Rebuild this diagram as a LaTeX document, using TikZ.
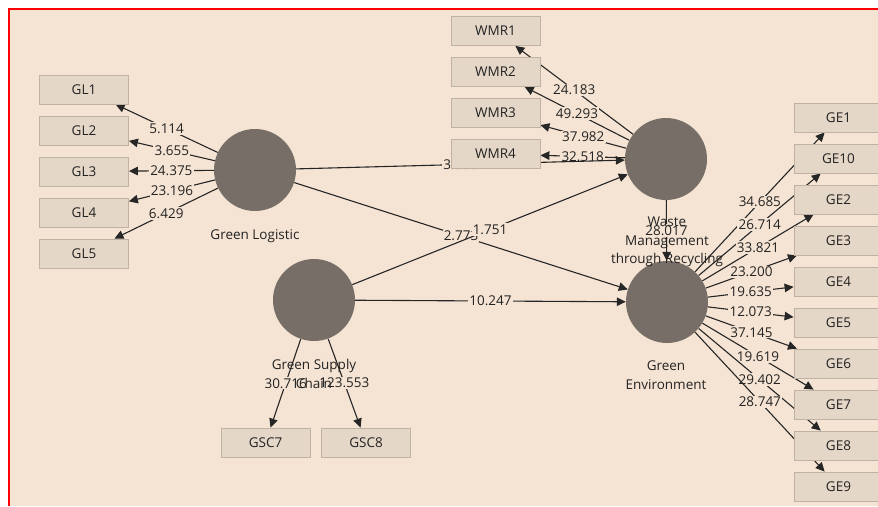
\documentclass[tikz,border=0pt]{standalone}
\usepackage{fontspec}
\setmainfont{Open Sans}
\usetikzlibrary{
  arrows.meta,
  positioning
}
\definecolor{plsbg}{RGB}{245,228,211}
\definecolor{plsbox}{RGB}{229,215,199}
\definecolor{plsframe}{RGB}{192,178,162}
\definecolor{plsdisc}{RGB}{119,111,103}
\definecolor{plstext}{RGB}{35,35,35}
\pgfdeclarelayer{back}
\pgfdeclarelayer{edges}
\pgfsetlayers{back,edges,main}
\tikzset{
  construct/.style={
    circle,
    fill=plsdisc,
    minimum size=82pt,
    inner sep=0pt
  },
  indicator/.style={
    rectangle,
    fill=plsbox,
    draw=plsframe,
    line width=0.8pt,
    minimum width=89pt,
    minimum height=29pt,
    inner sep=0pt,
    text=plstext
  },
  cname/.style={
    align=center,
    text=plstext
  },
  link/.style={
    draw=black!85,
    line width=1.1pt,
    -{Triangle[length=9pt,width=8.5pt]}
  },
  coef/.style={
    midway,
    fill=plsbg,
    inner sep=1.2pt,
    text=plstext
  }
}

\begin{document}
\begin{tikzpicture}[x=1pt, y=-1pt, font=\fontsize{13.5}{18.5}\selectfont]
\useasboundingbox (0,0) rectangle (878,506);
\begin{pgfonlayer}{back}
\fill[white] (0,0) rectangle (878,506);
\fill[plsbg] (9,9) rectangle (878,506);
\draw[red, line width=2pt] (9,506) -- (9,9) -- (878,9);
\end{pgfonlayer}

% latent variables
\node[construct] (GL) at (255,170) {};
\node[construct] (WMR) at (666,159) {};
\node[construct] (GSC) at (314,300) {};
\node[construct] (GE) at (667,302) {};

\node[cname] (GLname) at (255,236) {Green Logistic};
\node[cname] (WMRname) at (667,242) {Waste\\Management\\through Recycling};
\node[cname] (GSCname) at (314,374) {Green Supply\\Chain};
\node[cname] (GEname) at (666,375) {Green\\Environment};

% indicators
\foreach \i in {1,...,5}
  \node[indicator] (GL\i) at (84,{48.5+41*\i}) {GL\i};
\foreach \i in {1,...,4}
  \node[indicator] (WMR\i) at (495.5,{-10+41*\i}) {WMR\i};
\foreach \n [count=\k] in {1,10,2,3,4,5,6,7,8,9}
  \node[indicator] (GE\n) at (838.5,{76.5+41*\k}) {GE\n};
\node[indicator] (GSC7) at (265.5,442.5) {GSC7};
\node[indicator] (GSC8) at (366,442.5) {GSC8};

\begin{pgfonlayer}{edges}
\foreach \i/\v in {1/5.114, 2/3.655, 3/24.375, 4/23.196, 5/6.429}
  \draw[link] (GL) -- (GL\i) node[coef] {\v};
\foreach \i/\v in {1/24.183, 2/49.293, 3/37.982, 4/32.518}
  \draw[link] (WMR) -- (WMR\i) node[coef] {\v};
\foreach \n/\v in {1/34.685, 10/26.714, 2/33.821, 3/23.200, 4/19.635,
                   5/12.073, 6/37.145, 7/19.619, 8/29.402, 9/28.747}
  \draw[link] (GE) -- (GE\n) node[coef] {\v};
\draw[link] (GSC) -- (GSC7) node[coef] {30.716};
\draw[link] (GSC) -- (GSC8) node[coef] {123.553};

% structural paths
\draw[link] (GL) -- (WMR) node[coef] {3.068};
\draw[link] (GL) -- (GE) node[coef] {2.773};
\draw[link] (GSC) -- (WMR) node[coef] {1.751};
\draw[link] (GSC) -- (GE) node[coef] {10.247};
\draw[link] (WMR) -- (GE) node[coef] {28.017};
\end{pgfonlayer}
\end{tikzpicture}
\end{document}
